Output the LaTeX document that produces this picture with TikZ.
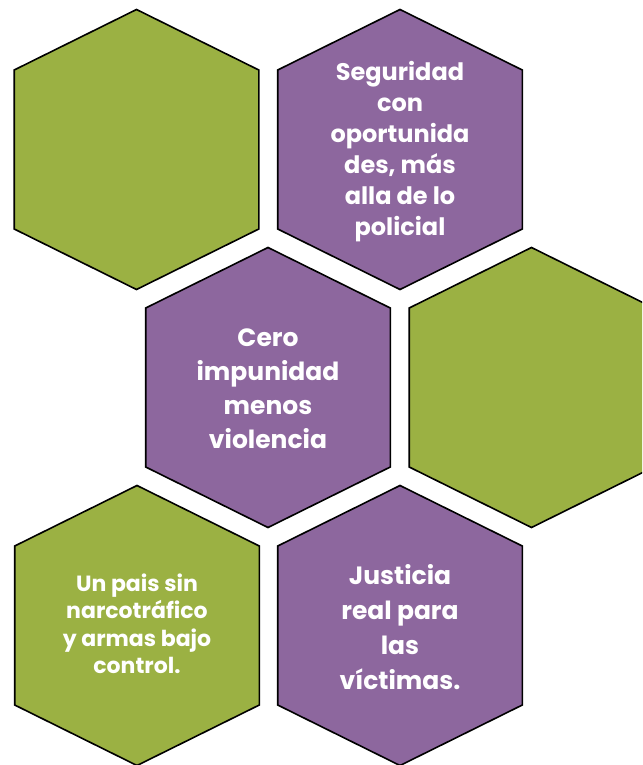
\documentclass[tikz,border=0pt]{standalone}
\usepackage{fontspec}
\setmainfont{Poppins}
\definecolor{hgreen}{RGB}{155,177,67}
\definecolor{hpurple}{RGB}{141,103,158}
\tikzset{
  x=1pt, y=-1pt,
  hexline/.style={draw=black, line width=1.6pt, line join=miter},
  pics/hexa/.style={code={
    \draw[hexline, fill=#1] (0,-140) -- (122.3,-79.5) -- (122.3,79.5) -- (0,140)
      -- (-122.3,79.5) -- (-122.3,-79.5) -- cycle;}},
  hextext/.style={text=white, align=center, inner sep=0pt}
}
\begin{document}
\begin{tikzpicture}
\useasboundingbox (0,0) rectangle (642,765);
\clip (0,0) rectangle (642,765);
\coordinate (c1) at (136.5,149.5);
\coordinate (c2) at (400,149.5);
\coordinate (c3) at (268,387.5);
\coordinate (c4) at (531.5,387.5);
\coordinate (c5) at (137,625.5);
\coordinate (c6) at (400,625.5);
\pic at (c1) {hexa=hgreen};
\pic at (c2) {hexa=hpurple};
\pic at (c3) {hexa=hpurple};
\pic at (c4) {hexa=hgreen};
\pic at (c5) {hexa=hgreen};
\pic at (c6) {hexa=hpurple};
\node[hextext, font=\bfseries\fontsize{24}{31}\selectfont] (t2) at (400,152) {Seguridad\\con\\oportunida\\des, más\\alla de lo\\policial};
\node[hextext, font=\bfseries\fontsize{25}{34}\selectfont] (t3) at (268,389) {Cero\\impunidad\\menos\\violencia};
\node[hextext, font=\bfseries\fontsize{22}{27.5}\selectfont] (t5) at (137,624) {Un pais sin\\narcotráfico\\y armas bajo\\control.};
\node[hextext, font=\bfseries\fontsize{25}{35}\selectfont] (t6) at (400,627) {Justicia\\real para\\las\\víctimas.};
\end{tikzpicture}
\end{document}
